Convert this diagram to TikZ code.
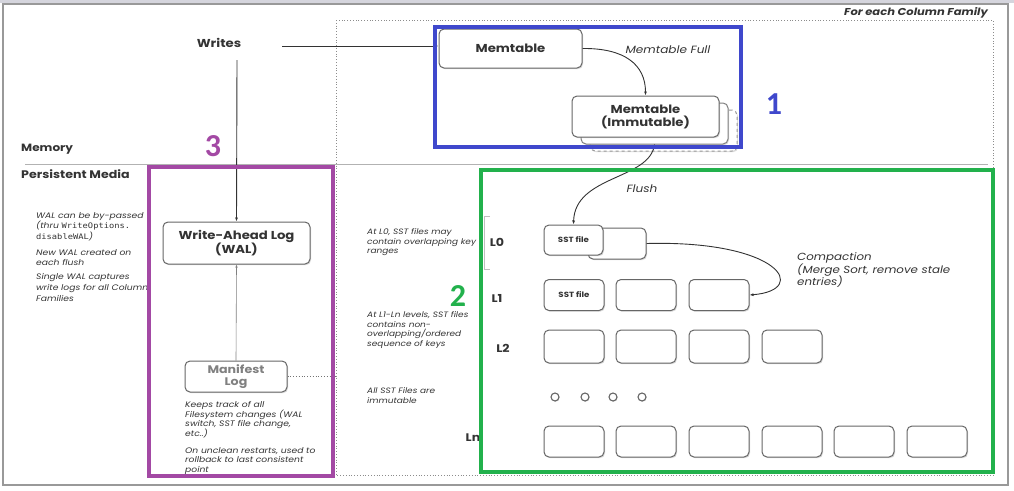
\documentclass[tikz,border=0pt]{standalone}
\usepackage{fontspec}
\setmainfont{Poppins}[FakeStretch=1.15]
\setmonofont{DejaVu Sans Mono}[FakeStretch=1.15]
\newfontfamily\numfont{Carlito}
\usetikzlibrary{arrows.meta,shadows,calc}
\definecolor{txt}{HTML}{333333}
\definecolor{bluemark}{HTML}{3F48CC}
\definecolor{greenmark}{HTML}{22B14C}
\definecolor{purplemark}{HTML}{A349A4}
\begin{document}
\begin{tikzpicture}[x=1pt,y=-1pt,
  box/.style={draw=black!60, line width=1pt, rounded corners=5pt, fill=white,
    drop shadow={shadow xshift=1pt, shadow yshift=-1.2pt, opacity=0.3},
    text=txt, inner sep=0pt, align=center},
  bigbox/.style={box, font=\bfseries\fontsize{11.5}{13}\selectfont},
  sstbox/.style={box, minimum width=60pt, minimum height=31pt, font=\bfseries\fontsize{7.5}{9}\selectfont},
  lbl/.style={font=\bfseries\fontsize{11}{13}\selectfont, text=txt, inner sep=0pt},
  lvl/.style={font=\bfseries\fontsize{11}{13}\selectfont, text=txt, inner sep=0pt},
  note/.style={font=\itshape\fontsize{8}{10.6}\selectfont, text=txt, inner sep=0pt, align=left, anchor=north west},
  midnote/.style={font=\itshape\fontsize{7.8}{9.4}\selectfont, text=txt, inner sep=0pt, align=left, anchor=north west},
  arr/.style={-{Latex[length=4pt,width=3pt]}, line width=0.9pt, draw=black!80},
  hlmark/.style={line width=4pt},
  num/.style={font=\numfont\bfseries\fontsize{32}{32}\selectfont, inner sep=0pt},
  dot/.style={circle, draw=black!60, line width=1.1pt, minimum size=8pt, inner sep=0pt, fill=white,
    drop shadow={shadow xshift=0.6pt, shadow yshift=-0.8pt, opacity=0.3}}
]
\useasboundingbox (0,0) rectangle (1014,490);
% outer frame
\fill[fill=blue!10!gray!30] (0,0) rectangle (1014,3);
\draw[draw=black!40, line width=1.2pt] (3,4) rectangle (1008,485);
% column family frame
\draw[draw=black!45, dotted, line width=0.8pt] (336,20) rectangle (993,475);
\node[font=\bfseries\itshape\fontsize{10}{12}\selectfont, text=txt, anchor=east, inner sep=0pt] (cflabel) at (988,13) {For each Column Family};
% memory / persistent divider
\draw[draw=black!30, line width=1pt] (25,164) -- (988,164);
\node[lbl, font=\bfseries\fontsize{10.5}{13}\selectfont, anchor=west] (memory) at (21,149) {Memory};
\node[lbl, anchor=west] (persist) at (21,174) {Persistent Media};
% writes
\node[lbl, font=\bfseries\fontsize{11.5}{13}\selectfont] (writes) at (219,43) {Writes};
\coordinate (wright) at (282,46);
\coordinate (wdown) at (237,60);
% memtables
\node[box, dashed, draw=black!40, minimum width=147pt, minimum height=41pt] (imm3) at (663.5,130.5) {};
\node[box, draw=black!50, minimum width=147pt, minimum height=41pt] (imm2) at (654.5,123.5) {};
\node[bigbox, minimum width=147pt, minimum height=41pt] (imm) at (645.5,116.5) {Memtable\\(Immutable)};
\node[bigbox, minimum width=143pt, minimum height=39pt] (mem) at (510.5,48.5) {Memtable};
\node[font=\itshape\fontsize{10.5}{12}\selectfont, text=txt, inner sep=0pt] (memfull) at (668,50) {Memtable Full};
\draw[arr] (wright) -- (wright -| mem.west);
\draw[arr] (mem.east) .. controls (625,48) and (645.5,65) .. (imm.north);
% WAL and manifest
\node[bigbox, minimum width=147pt, minimum height=42pt] (wal) at (236.5,243) {Write-Ahead Log\\(WAL)};
\node[bigbox, font=\bfseries\fontsize{11}{12.5}\selectfont, text=black!50, minimum width=102pt, minimum height=31pt] (man) at (236,376.5) {Manifest\\Log};
\coordinate (manend) at (336,376.5);
\draw[arr] (wdown) -- (wal.north);
\draw[-{Latex[length=3pt,width=2.5pt]}, line width=0.6pt, draw=black!50] (man.north) -- (wal.south);
\draw[dotted, line width=0.8pt, draw=black!55] (man.east) -- (manend);
% left notes
\node[note] (n1) at (36,212) {WAL can be by-passed\\(thru {\upshape\ttfamily\fontsize{7.6}{10.6}\selectfont WriteOptions.}\\{\upshape\ttfamily\fontsize{7.6}{10.6}\selectfont disableWAL})};
\node[note] (n2) at (36,249) {New WAL created on\\each flush};
\node[note, font=\itshape\fontsize{8}{11}\selectfont] (n3) at (36,273) {Single WAL captures\\write logs for all Column\\Families};
\node[note, font=\itshape\fontsize{8}{9.7}\selectfont] (n4) at (185,401) {Keeps track of all\\Filesystem changes (WAL\\switch, SST file change,\\etc..)};
\node[note, font=\itshape\fontsize{8}{9.5}\selectfont] (n5) at (185,447) {On unclean restarts, used to\\rollback to last consistent\\point};
% middle notes
\node[midnote] (m1) at (367,228.7) {At L0, SST files may\\contain overlapping key\\ranges};
\node[midnote] (m2) at (367,311.7) {At L1-Ln levels, SST files\\contains non-\\overlapping/ordered\\sequence of keys};
\node[midnote] (m3) at (367,387.7) {All SST Files are\\immutable};
% levels
\draw[draw=black!25, line width=0.8pt] (490,216) -- (484,216) -- (484,269) -- (490,269);
\node[lvl] (L0) at (497,242) {L0};
\node[lvl] (L1) at (497,298) {L1};
\node[lvl] (L2) at (503,348) {L2};
\node[lvl] (Ln) at (473,438) {Ln};
% L0
\node[sstbox, minimum width=58pt] (l0b) at (617,243.5) {};
\node[sstbox, minimum width=59pt, minimum height=30pt] (l0a) at (573.5,240) {SST file};
% L1
\node[sstbox] (l1a) at (574,295) {SST file};
\node[sstbox] (l1b) at (646,295) {};
\node[sstbox] (l1c) at (719,295) {};
% L2
\node[sstbox, minimum height=33pt] (l2a) at (574,346.5) {};
\node[sstbox, minimum height=33pt] (l2b) at (646,346.5) {};
\node[sstbox, minimum height=33pt] (l2c) at (719,346.5) {};
\node[sstbox, minimum height=33pt] (l2d) at (792,346.5) {};
% dots
\node[dot] (d1) at (555,397) {};
\node[dot] (d2) at (585,397) {};
\node[dot] (d3) at (613,397) {};
\node[dot] (d4) at (642,397) {};
% Ln
\node[sstbox] (lna) at (574,441.5) {};
\node[sstbox] (lnb) at (646,441.5) {};
\node[sstbox] (lnc) at (719,441.5) {};
\node[sstbox] (lnd) at (792,441.5) {};
\node[sstbox] (lne) at (864,441.5) {};
\node[sstbox] (lnf) at (937,441.5) {};
% flush and compaction
\draw[arr] (imm2.south) .. controls (650,180) and (575,175) .. (l0a.north);
\node[font=\itshape\fontsize{10.5}{12}\selectfont, text=txt, inner sep=0pt] (flush) at (642,189) {Flush};
\draw[arr] (l0b.east) .. controls (780,240) and (810,290) .. (l1c.east);
\node[font=\itshape\fontsize{10.3}{12.5}\selectfont, text=txt, inner sep=0pt, align=left, anchor=north west] (compact) at (797,252.5) {Compaction\\(Merge Sort, remove stale\\entries)};
% highlight marks
\draw[hlmark, draw=bluemark] (435,27) rectangle (741,147);
\node[num, text=bluemark] (one) at (774,104) {1};
\draw[hlmark, draw=greenmark] (481,170) rectangle (993,472);
\node[num, text=greenmark] (two) at (458,296) {2};
\draw[hlmark, draw=purplemark] (149,167) rectangle (333,476);
\node[num, text=purplemark] (three) at (213,146) {3};
\end{tikzpicture}
\end{document}
